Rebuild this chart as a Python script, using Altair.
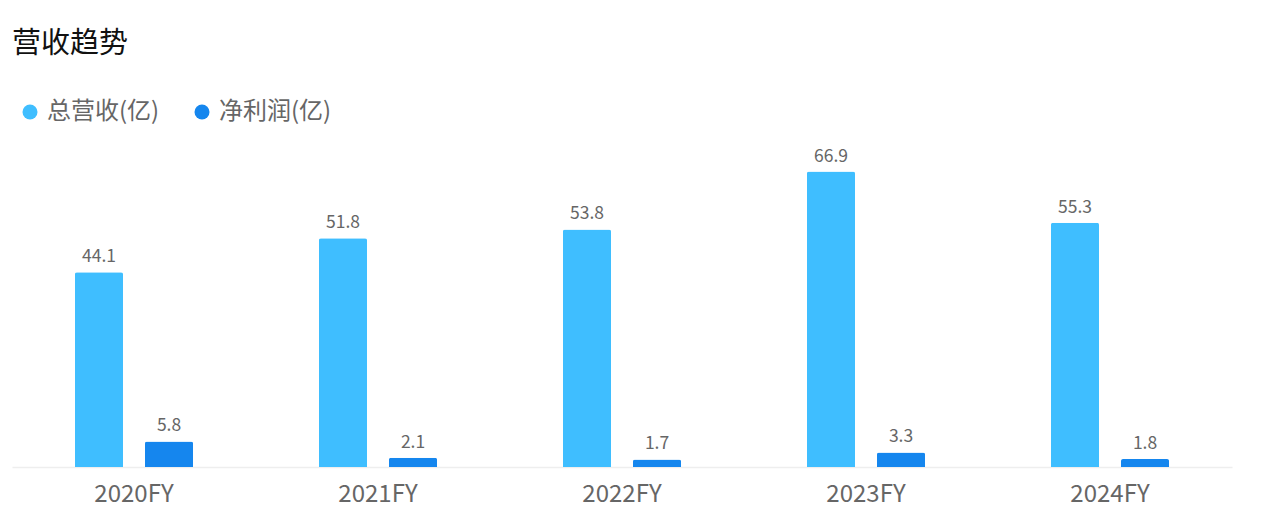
import altair as alt
import pandas as pd

years = ["2020FY", "2021FY", "2022FY", "2023FY", "2024FY"]
revenue = [44.1, 51.8, 53.8, 66.9, 55.3]
profit = [5.8, 2.1, 1.7, 3.3, 1.8]
series = ["总营收(亿)", "净利润(亿)"]
colors = ["#3FBEFF", "#1586EE"]

rows = []
for y, r, p in zip(years, revenue, profit):
    rows.append({"year": y, "series": series[0], "value": r})
    rows.append({"year": y, "series": series[1], "value": p})
df = pd.DataFrame(rows)

FONT = "Noto Sans CJK SC"

x = alt.X("year:N", sort=years, title=None,
          scale=alt.Scale(paddingInner=0.516, paddingOuter=0.258),
          axis=alt.Axis(labelAngle=0, labelFontSize=24, labelColor="#666666",
                        labelFont=FONT, labelPadding=15, ticks=False,
                        domainColor="#EEEEEE", domainWidth=1.5, grid=False))
xoff = alt.XOffset("series:N", sort=series,
                   scale=alt.Scale(paddingInner=0.314, paddingOuter=0))
y = alt.Y("value:Q", scale=alt.Scale(domain=[0, 72], nice=False), axis=None)

bars = alt.Chart(df).mark_bar(cornerRadiusTopLeft=2, cornerRadiusTopRight=2).encode(
    x=x, xOffset=xoff, y=y,
    color=alt.Color("series:N", sort=series,
                    scale=alt.Scale(domain=series, range=colors),
                    legend=alt.Legend(title=None, orient="none", direction="horizontal",
                                      legendX=6, legendY=-49, symbolType="circle",
                                      symbolSize=225, labelFontSize=24,
                                      labelColor="#666666", labelFont=FONT,
                                      columnPadding=30, padding=0, labelOffset=5)),
)

labels = alt.Chart(df).mark_text(dy=-15, fontSize=17.5, color="#666666", font=FONT).encode(
    x=x, xOffset=xoff, y=y, text=alt.Text("value:Q", format=".1f"),
)

chart = alt.layer(bars, labels).properties(
    width=1220, height=318,
    title=alt.TitleParams("营收趋势", anchor="start", fontSize=29, font=FONT,
                          fontWeight="normal", color="#111111", offset=41),
    padding={"left": 4, "top": 22, "right": 20, "bottom": 1},
).configure_view(stroke=None)

chart.save("out.html", embed_options={"renderer": "svg", "actions": False})
